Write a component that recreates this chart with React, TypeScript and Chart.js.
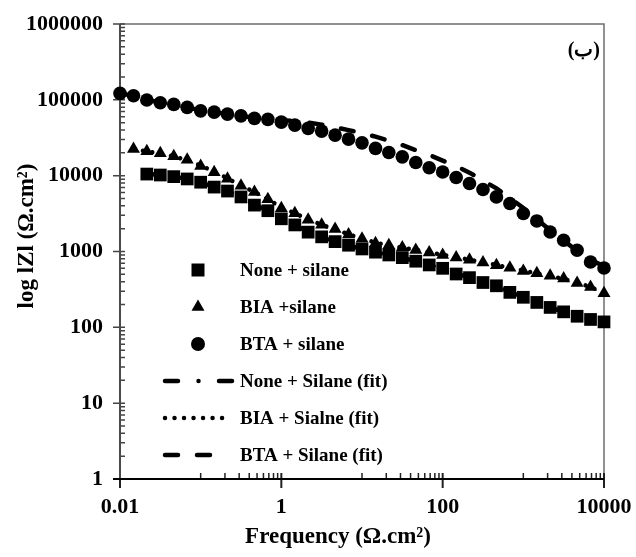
import { useEffect, useRef } from 'react';
import { Chart, registerables } from 'chart.js';

Chart.register(...registerables);

// Frequencies (6 points per decade)
const FREQ = [
  0.01, 0.0147, 0.0215, 0.0316, 0.0464, 0.0681,
  0.1, 0.147, 0.215, 0.316, 0.464, 0.681,
  1, 1.47, 2.15, 3.16, 4.64, 6.81,
  10, 14.7, 21.5, 31.6, 46.4, 68.1,
  100, 147, 215, 316, 464, 681,
  1000, 1470, 2150, 3160, 4640, 6810,
  10000,
];

// |Z| measured
const Z_NONE = [
  null, null, 10500, 10200, 9710, 9050, 8200, 7070, 6270, 5240, 4090, 3450,
  2700, 2240, 1800, 1560, 1350, 1210, 1080, 980, 900, 830, 745, 665,
  600, 505, 452, 390, 353, 289, 249, 213, 183, 160, 140, 127, 118,
];
const Z_BIA = [
  null, 22500, 21000, 19700, 18000, 16200, 13400, 11100, 9100, 7350, 6100, 4870,
  3710, 3190, 2620, 2260, 1980, 1670, 1470, 1280, 1210, 1130, 1050, 971,
  897, 835, 780, 715, 660, 610, 555, 518, 478, 439, 385, 340, 281,
];
const Z_BTA = [
  121600, 113000, 99300, 91500, 87100, 79500, 71600, 68900, 64800, 61500, 56900, 55200,
  50800, 46400, 42000, 38700, 34200, 30300, 27100, 22900, 20200, 17700, 14900, 12700,
  11200, 9460, 7890, 6580, 5250, 4300, 3170, 2530, 1810, 1410, 1040, 728, 607,
];

// |Z| fits
const FIT_NONE = [
  null, null, 10600, 10200, 9700, 9000, 8150, 7100, 6250, 5250, 4150, 3450,
  2700, 2230, 1820, 1570, 1360, 1200, 1080, 980, 895, 825, 745, 665,
  600, 510, 455, 395, 350, 292, 250, 213, 184, 160, 141, 127, 118,
];
const FIT_BIA = [
  null, 22300, 20900, 19600, 17900, 16000, 13600, 11300, 9200, 7400, 6100, 4900,
  3800, 3200, 2650, 2250, 1950, 1690, 1480, 1310, 1200, 1120, 1050, 975,
  905, 840, 780, 720, 665, 610, 560, 515, 475, 435, 390, 340, 285,
];
const FIT_BTA = [
  122700, 112100, 100800, 92000, 85300, 79000, 73200, 68900, 64800, 61000, 58300, 55700,
  54000, 52400, 50100, 47100, 43600, 39900, 36400, 32700, 29000, 25300, 21700, 18700,
  15800, 13300, 10960, 8650, 6790, 5090, 3750, 2660, 1910, 1390, 1020, 780, 638,
];

const SERIES_LABELS = [
  'None + silane',
  'BIA +silane',
  'BTA + silane',
  'None + Silane (fit)',
  'BIA + Sialne (fit)',
  'BTA + Silane (fit)',
];

const X_TICKS = [0.01, 1, 100, 10000];
const X_TICK_LABELS = ['0.01', '1', '100', '10000'];
const X_MINOR = [
  0.1, 0.2, 0.3, 0.4, 0.5, 0.6, 0.7, 0.8, 0.9,
  10, 20, 30, 40, 50, 60, 70, 80, 90,
  1000, 2000, 3000, 4000, 5000, 6000, 7000, 8000, 9000,
];
const Y_TICKS = [1, 10, 100, 1000, 10000, 100000, 1000000];
const Y_TICK_LABELS = ['1', '10', '100', '1000', '10000', '100000', '1000000'];
const Y_MINOR_MULT = [2, 3, 4, 5, 6, 7, 8, 9];

const X_TITLE = 'Frequency (Ω.cm²)';
const Y_TITLE = 'log lZl (Ω.cm²)';
const PANEL_LABEL = '(ب)';

const FONT = "'Liberation Serif', 'Times New Roman', 'DejaVu Serif', serif";

const DASH_NONE = [13, 20.5, 0.01, 20.5];
const DASH_BIA = [0.01, 9.5];
const DASH_BTA = [13, 19];

function toPoints(ys: (number | null)[]) {
  return FREQ.map((f, i) => ({ x: f, y: ys[i] }));
}

function drawMarker(ctx: CanvasRenderingContext2D, style: string, x: number, y: number, s: number) {
  ctx.beginPath();
  if (style === 'rect') {
    ctx.rect(x - s / 2, y - s / 2, s, s);
  } else if (style === 'triangle') {
    const r = s / Math.sqrt(3);
    ctx.moveTo(x, y - r);
    ctx.lineTo(x + s / 2, y + r / 2);
    ctx.lineTo(x - s / 2, y + r / 2);
    ctx.closePath();
  } else {
    ctx.arc(x, y, s / 2, 0, Math.PI * 2);
  }
  ctx.fill();
}

const decor = {
  id: 'decor',
  beforeDatasetsDraw(chart: any) {
    const { ctx, chartArea: a, scales } = chart;
    const xs = scales.x;
    const ys = scales.y;
    ctx.save();
    // frame top / right
    ctx.strokeStyle = '#6e6e6e';
    ctx.lineWidth = 1.5;
    ctx.beginPath();
    ctx.moveTo(a.left, a.top);
    ctx.lineTo(a.right, a.top);
    ctx.lineTo(a.right, a.bottom);
    ctx.stroke();

    // y ticks
    ctx.strokeStyle = '#444';
    ctx.lineWidth = 1.5;
    ctx.beginPath();
    for (let i = 0; i < Y_TICKS.length - 1; i++) {
      for (const m of Y_MINOR_MULT) {
        const py = ys.getPixelForValue(Y_TICKS[i] * m);
        ctx.moveTo(a.left, py);
        ctx.lineTo(a.left + 5, py);
      }
    }
    for (const v of Y_TICKS) {
      const py = ys.getPixelForValue(v);
      ctx.moveTo(a.left - 7, py);
      ctx.lineTo(a.left + 5, py);
    }
    ctx.stroke();

    // x ticks
    ctx.strokeStyle = '#222';
    ctx.beginPath();
    for (const v of X_MINOR) {
      const px = xs.getPixelForValue(v);
      ctx.moveTo(px, a.bottom);
      ctx.lineTo(px, a.bottom - 6);
    }
    ctx.stroke();
    ctx.lineWidth = 2;
    ctx.beginPath();
    for (const v of X_TICKS) {
      const px = xs.getPixelForValue(v);
      ctx.moveTo(px, a.bottom + 9);
      ctx.lineTo(px, a.bottom - 6);
    }
    ctx.stroke();

    // left axis
    ctx.strokeStyle = '#4a4a4a';
    ctx.lineWidth = 2;
    ctx.beginPath();
    ctx.moveTo(a.left, a.top);
    ctx.lineTo(a.left, a.bottom);
    ctx.stroke();
    // bottom axis
    ctx.strokeStyle = '#000';
    ctx.beginPath();
    ctx.moveTo(a.left - 7, a.bottom);
    ctx.lineTo(a.right, a.bottom);
    ctx.stroke();
    ctx.restore();
  },
  afterDraw(chart: any) {
    const { ctx, chartArea: a } = chart;
    ctx.save();
    ctx.fillStyle = '#000';
    ctx.strokeStyle = '#000';

    // legend
    const styles = ['rect', 'triangle', 'circle'];
    const sizes = [13, 13, 14];
    const dashes = [DASH_NONE, DASH_BIA, DASH_BTA];
    const lineEnds = [113, 111, 95];
    ctx.font = `bold 19px ${FONT}`;
    ctx.textAlign = 'left';
    ctx.textBaseline = 'middle';
    for (let i = 0; i < SERIES_LABELS.length; i++) {
      const y = a.top + 246 + i * 37;
      if (i < 3) {
        drawMarker(ctx, styles[i], a.left + 78, y, sizes[i]);
      } else {
        ctx.save();
        ctx.lineWidth = 4.5;
        ctx.lineCap = 'round';
        ctx.setLineDash(dashes[i - 3]);
        ctx.beginPath();
        ctx.moveTo(a.left + 45, y);
        ctx.lineTo(a.left + lineEnds[i - 3], y);
        ctx.stroke();
        ctx.restore();
      }
      ctx.fillText(SERIES_LABELS[i], a.left + 120, y + 1);
    }

    // panel label
    ctx.font = `bold 20px ${FONT}`;
    ctx.textAlign = 'right';
    ctx.fillText(PANEL_LABEL, a.right - 4, a.top + 27);

    // axis titles
    ctx.font = `bold 23px ${FONT}`;
    ctx.textAlign = 'center';
    ctx.fillText(X_TITLE, a.left + 218, a.bottom + 58);
    ctx.save();
    ctx.translate(a.left - 93, a.top + 212);
    ctx.rotate(-Math.PI / 2);
    ctx.fillText(Y_TITLE, 0, 0);
    ctx.restore();
    ctx.restore();
  },
};

export default function App() {
  const ref = useRef<HTMLCanvasElement | null>(null);

  useEffect(() => {
    if (!ref.current) return;
    const tickFont = { family: FONT, size: 22, weight: 'bold' as const };
    const chart = new Chart(ref.current, {
      type: 'scatter',
      data: {
        datasets: [
          {
            label: SERIES_LABELS[0], data: toPoints(Z_NONE), pointStyle: 'rect', pointRadius: 9,
            backgroundColor: '#000', borderColor: '#000', pointBorderWidth: 0, showLine: false, clip: false,
          },
          {
            label: SERIES_LABELS[1], data: toPoints(Z_BIA), pointStyle: 'triangle', pointRadius: 7.5,
            backgroundColor: '#000', borderColor: '#000', pointBorderWidth: 0, showLine: false, clip: false,
          },
          {
            label: SERIES_LABELS[2], data: toPoints(Z_BTA), pointStyle: 'circle', pointRadius: 6.8,
            backgroundColor: '#000', borderColor: '#000', pointBorderWidth: 0, showLine: false, clip: false,
          },
          {
            label: SERIES_LABELS[3], data: toPoints(FIT_NONE), showLine: true, pointRadius: 0,
            borderColor: '#000', borderWidth: 4.5, borderDash: DASH_NONE, borderCapStyle: 'round', clip: false,
          },
          {
            label: SERIES_LABELS[4], data: toPoints(FIT_BIA), showLine: true, pointRadius: 0,
            borderColor: '#000', borderWidth: 4.5, borderDash: DASH_BIA, borderCapStyle: 'round', clip: false,
          },
          {
            label: SERIES_LABELS[5], data: toPoints(FIT_BTA), showLine: true, pointRadius: 0,
            borderColor: '#000', borderWidth: 4.5, borderDash: DASH_BTA, borderCapStyle: 'round', clip: false,
          },
        ] as any,
      },
      options: {
        responsive: false,
        animation: false,
        layout: { padding: { top: 24, right: 32, left: 0, bottom: 0 } },
        plugins: { legend: { display: false }, tooltip: { enabled: false } },
        scales: {
          x: {
            type: 'logarithmic',
            min: 0.01,
            max: 10000,
            afterBuildTicks: (s: any) => { s.ticks = X_TICKS.map((v) => ({ value: v })); },
            afterFit: (s: any) => { s.height = 78; s.paddingLeft = 0; s.paddingRight = 0; },
            ticks: {
              autoSkip: false, maxRotation: 0, minRotation: 0, padding: 15, color: '#000', font: tickFont,
              callback: (_v: any, i: number) => X_TICK_LABELS[i],
            },
            grid: { display: false, drawTicks: false },
            border: { display: false },
          },
          y: {
            type: 'logarithmic',
            min: 1,
            max: 1000000,
            afterBuildTicks: (s: any) => { s.ticks = Y_TICKS.map((v) => ({ value: v })); },
            afterFit: (s: any) => { s.width = 120; s.paddingTop = 0; s.paddingBottom = 0; },
            ticks: {
              autoSkip: false, padding: 17, color: '#000', font: tickFont,
              callback: (_v: any, i: number) => Y_TICK_LABELS[i],
            },
            grid: { display: false, drawTicks: false },
            border: { display: false },
          },
        },
      } as any,
      plugins: [decor],
    });
    return () => chart.destroy();
  }, []);

  return (
    <div style={{ position: 'fixed', left: 0, top: 0, width: 636, height: 557, background: '#fff' }}>
      <canvas ref={ref} width={636} height={557} style={{ display: 'block', width: 636, height: 557 }} />
    </div>
  );
}
